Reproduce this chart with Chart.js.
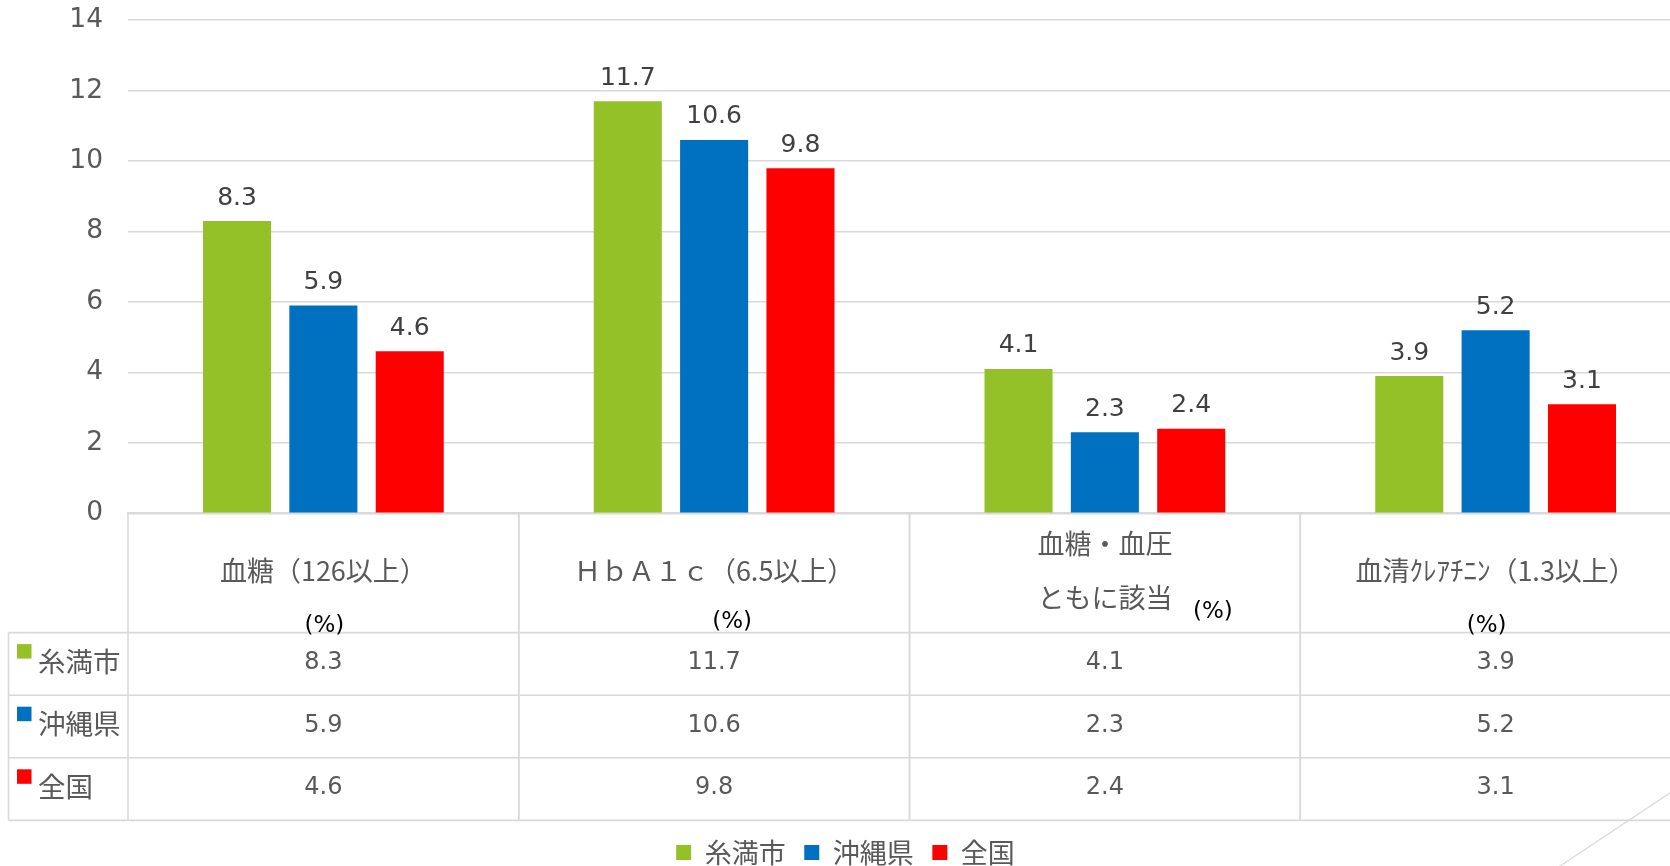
<!DOCTYPE html>
<html>
<head>
<meta charset="utf-8">
<script src="https://cdn.jsdelivr.net/npm/chart.js@4.4.0/dist/chart.umd.min.js"></script>
<style>
html,body{margin:0;padding:0;background:#fff;overflow:hidden;}
#wrap{position:relative;width:1691px;height:876px;}
</style>
</head>
<body>
<div id="wrap"><canvas id="c"></canvas></div>
<script>
// ---- data ----
const categories = [['血糖（126以上）'], ['ＨｂＡ１ｃ（6.5以上）'], ['血糖・血圧', 'ともに該当'], ['血清ｸﾚｱﾁﾆﾝ（1.3以上）']];
const seriesNames = ['糸満市', '沖縄県', '全国'];
const itomanValues = [8.3, 11.7, 4.1, 3.9];
const okinawaValues = [5.9, 10.6, 2.3, 5.2];
const nationalValues = [4.6, 9.8, 2.4, 3.1];
const yTicks = [0, 2, 4, 6, 8, 10, 12, 14];
const unitLabel = '(%)';

// ---- styles / layout ----
const COLORS = ['#93C127', '#0070C0', '#FF0000'];
const GRID = '#d9d9d9';
const TEXT = '#595959';
const NUM_FONT = '"DejaVu Sans", "Noto Sans CJK JP", sans-serif';
const JP_FONT = '"Noto Sans CJK JP", "DejaVu Sans", sans-serif';
const HEADER_H = 119.2, ROW_H = 62.6, TABLE_LEFT = 8.5;
const headerLineY = { 1: [57], 2: [30.6, 84.2] };
const unitPos = [[1, 112.6], [18, 108.6], [108, 98.6], [-9, 113]];

const allValues = [itomanValues, okinawaValues, nationalValues];

function fmt(v) { return v.toFixed(1); }

const labelPlugin = {
  id: 'barLabels',
  afterDatasetsDraw(chart) {
    const ctx = chart.ctx;
    ctx.save();
    ctx.font = '25px ' + NUM_FONT;
    ctx.fillStyle = '#404040';
    ctx.textAlign = 'center';
    ctx.textBaseline = 'alphabetic';
    chart.data.datasets.forEach((ds, di) => {
      const meta = chart.getDatasetMeta(di);
      meta.data.forEach((bar, i) => {
        ctx.fillText(fmt(ds.data[i]), bar.x, bar.y - 16.5);
      });
    });
    ctx.restore();
  }
};

const tablePlugin = {
  id: 'dataTable',
  afterDraw(chart) {
    const { ctx, chartArea } = chart;
    const x = chart.scales.x;
    const n = categories.length;
    const catW = (chartArea.right - chartArea.left) / n;
    const top = chartArea.bottom;
    const rowsTop = top + HEADER_H;
    const bottom = rowsTop + ROW_H * seriesNames.length;
    const line = (x1, y1, x2, y2) => { ctx.beginPath(); ctx.moveTo(x1, y1); ctx.lineTo(x2, y2); ctx.stroke(); };
    ctx.save();
    ctx.strokeStyle = GRID;
    ctx.lineWidth = 1.6;
    for (let i = 0; i < n; i++) {
      const cx = x.getPixelForValue(i);
      line(cx - catW / 2, top, cx - catW / 2, bottom);
      line(cx + catW / 2, top, cx + catW / 2, bottom);
    }
    line(TABLE_LEFT, rowsTop, TABLE_LEFT, bottom);
    for (let r = 0; r <= seriesNames.length; r++) {
      const yy = rowsTop + r * ROW_H;
      line(TABLE_LEFT, yy, chartArea.right, yy);
    }
    // header labels
    ctx.textAlign = 'center';
    ctx.textBaseline = 'middle';
    for (let i = 0; i < n; i++) {
      const cx = x.getPixelForValue(i);
      const lines = categories[i];
      const ys = headerLineY[lines.length];
      ctx.font = '27px ' + JP_FONT;
      ctx.fillStyle = TEXT;
      lines.forEach((t, k) => ctx.fillText(t, cx, top + ys[k]));
      ctx.font = '23px ' + NUM_FONT;
      ctx.fillStyle = '#000000';
      ctx.fillText(unitLabel, cx + unitPos[i][0], top + unitPos[i][1]);
    }
    // rows
    seriesNames.forEach((name, r) => {
      const ry = rowsTop + r * ROW_H;
      ctx.fillStyle = COLORS[r];
      ctx.fillRect(17, ry + 11.5, 14.5, 14.5);
      ctx.fillStyle = TEXT;
      ctx.textAlign = 'left';
      ctx.font = '27.5px ' + JP_FONT;
      ctx.fillText(name, 38, ry + 28.5);
      ctx.textAlign = 'center';
      ctx.font = '24px ' + NUM_FONT;
      allValues[r].forEach((v, i) => {
        ctx.fillText(fmt(v), x.getPixelForValue(i), ry + ROW_H / 2 - 1);
      });
    });
    // decorative diagonal line (slide ornament)
    ctx.strokeStyle = GRID;
    ctx.lineWidth = 1.2;
    line(1548, 874, 1700, 773);
    ctx.restore();
  }
};

new Chart(document.getElementById('c'), {
  type: 'bar',
  data: {
    labels: categories,
    datasets: seriesNames.map((name, i) => ({
      label: name,
      data: allValues[i],
      backgroundColor: COLORS[i],
      borderWidth: 0,
      categoryPercentage: 0.663,
      barPercentage: 0.788
    }))
  },
  options: {
    responsive: true,
    maintainAspectRatio: false,
    animation: false,
    layout: { padding: { top: 20.2, left: 0, right: 0, bottom: 0 } },
    plugins: {
      tooltip: { enabled: false },
      legend: {
        position: 'bottom',
        labels: {
          boxWidth: 15,
          boxHeight: 15,
          padding: 18.6,
          color: TEXT,
          font: { family: JP_FONT, size: 27 }
        }
      }
    },
    scales: {
      x: {
        grid: { display: false },
        border: { display: true, color: GRID, width: 2 },
        ticks: { display: false },
        afterFit(s) { s.height = 307; }
      },
      y: {
        min: yTicks[0],
        max: yTicks[yTicks.length - 1],
        ticks: {
          stepSize: yTicks[1] - yTicks[0],
          padding: 0,
          color: TEXT,
          font: { family: NUM_FONT, size: 26.5 }
        },
        grid: { color: GRID, lineWidth: 1.6, drawTicks: true, tickLength: 25, tickColor: 'rgba(0,0,0,0)' },
        border: { display: false },
        afterFit(s) { s.width = 128; }
      }
    }
  },
  plugins: [labelPlugin, tablePlugin]
});
</script>
</body>
</html>
